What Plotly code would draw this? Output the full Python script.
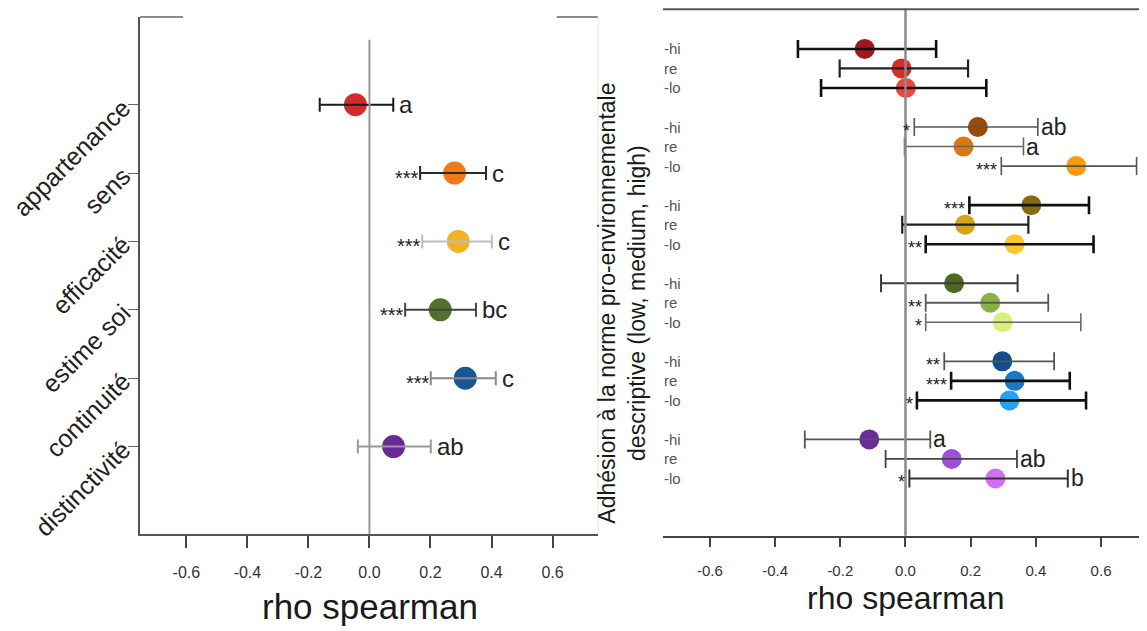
import plotly.graph_objects as go

# ---------------- data: left panel ----------------
left_labels = ["appartenance", "sens", "efficacité", "estime soi", "continuité", "distinctivité"]
left_rho = [-0.046, 0.279, 0.291, 0.232, 0.314, 0.079]
left_ci_low = [-0.163, 0.166, 0.173, 0.117, 0.201, -0.038]
left_ci_high = [0.078, 0.382, 0.401, 0.349, 0.414, 0.201]
left_stars = ["", "***", "***", "***", "***", ""]
left_letters = ["a", "c", "c", "bc", "c", "ab"]
left_colors = ["#d42a2a", "#f07a1a", "#f0b326", "#52702a", "#1a5596", "#6a2898"]
left_bar_colors = ["#1a1a1a", "#2a2a2a", "#bdbdbd", "#444444", "#8a8a8a", "#9a9a9a"]

# ---------------- data: right panel ----------------
right_levels = ["-hi", "re", "-lo"]
right_rho = [[-0.125, -0.012, 0.001],
             [0.222, 0.178, 0.524],
             [0.386, 0.183, 0.335],
             [0.149, 0.260, 0.298],
             [0.297, 0.335, 0.319],
             [-0.111, 0.142, 0.276]]
right_ci_low = [[-0.330, -0.202, -0.259],
                [0.027, -0.003, 0.294],
                [0.196, -0.010, 0.062],
                [-0.075, 0.062, 0.062],
                [0.119, 0.140, 0.035],
                [-0.309, -0.061, 0.012]]
right_ci_high = [[0.094, 0.192, 0.248],
                 [0.406, 0.362, 0.709],
                 [0.563, 0.377, 0.577],
                 [0.344, 0.438, 0.538],
                 [0.456, 0.504, 0.554],
                 [0.076, 0.342, 0.498]]
right_stars = [["", "", ""],
               ["*", "", "***"],
               ["***", "", "**"],
               ["", "**", "*"],
               ["**", "***", "*"],
               ["", "", "*"]]
right_letters = [["", "", ""],
                 ["ab", "a", "b"],
                 ["", "", ""],
                 ["", "", ""],
                 ["", "", ""],
                 ["a", "ab", "b"]]
right_colors = [["#9e1a1a", "#d92b26", "#f2453a"],
                ["#9a4a08", "#d8780f", "#ff9a0c"],
                ["#8a6a10", "#d3a31c", "#ffc62a"],
                ["#4c6a1e", "#8db042", "#d6f07a"],
                ["#0f4f8c", "#1a78c8", "#26a0f2"],
                ["#6a2c98", "#9f4fd6", "#d36ff7"]]
right_bar_colors = [["#111111", "#222222", "#111111"],
                    ["#555555", "#666666", "#555555"],
                    ["#111111", "#222222", "#111111"],
                    ["#3a3a3a", "#5a5a5a", "#6a6a6a"],
                    ["#555555", "#111111", "#111111"],
                    ["#555555", "#444444", "#333333"]]
right_bar_widths = [[2.6, 2.2, 2.6],
                    [1.6, 1.6, 1.6],
                    [2.6, 2.2, 2.6],
                    [2.0, 1.8, 1.6],
                    [1.8, 2.6, 2.6],
                    [1.8, 1.8, 2.0]]

x_ticks = [-0.6, -0.4, -0.2, 0.0, 0.2, 0.4, 0.6]
x_ticktext = ["-0.6", "-0.4", "-0.2", "0.0", "0.2", "0.4", "0.6"]
x_title = "rho spearman"
right_ytitle = "Adhésion à la norme pro-environnementale<br>descriptive (low, medium, high)"

FONT = "Liberation Sans, Arial, sans-serif"
# the page adds an 8px body margin; figure is sized so the page fills the window exactly
OFF = 8
W, H = 1147 - OFF, 631 - OFF


def xp(px):
    return (px - OFF) / W


def yp(py):
    return 1 - (py - OFF) / H


fig = go.Figure()
annotations = []

# ---------------- left panel traces ----------------
left_pos = list(range(1, len(left_labels) + 1))
for i in range(len(left_labels)):
    fig.add_trace(go.Scatter(
        x=[left_rho[i]], y=[left_pos[i]], mode="markers",
        marker=dict(color=left_colors[i], size=23, line=dict(width=0)),
        xaxis="x", yaxis="y", showlegend=False, hoverinfo="skip"))
    fig.add_trace(go.Scatter(
        x=[left_rho[i]], y=[left_pos[i]], mode="markers",
        marker=dict(size=1, opacity=0),
        error_x=dict(type="data", symmetric=False,
                     array=[left_ci_high[i] - left_rho[i]],
                     arrayminus=[left_rho[i] - left_ci_low[i]],
                     color=left_bar_colors[i], thickness=2, width=7),
        xaxis="x", yaxis="y", showlegend=False, hoverinfo="skip"))
    if left_stars[i]:
        annotations.append(dict(x=left_ci_low[i], y=left_pos[i], xref="x", yref="y",
                                text=left_stars[i], showarrow=False, xanchor="right",
                                yanchor="middle", xshift=1, yshift=-5,
                                font=dict(family=FONT, size=20, color="#222")))
    if left_letters[i]:
        annotations.append(dict(x=left_ci_high[i], y=left_pos[i], xref="x", yref="y",
                                text=left_letters[i], showarrow=False, xanchor="left",
                                yanchor="middle", xshift=4, yshift=0,
                                font=dict(family=FONT, size=24, color="#222")))

# ---------------- right panel traces ----------------
for g in range(len(right_rho)):
    for k in range(len(right_levels)):
        pos = g * 4 + k
        fig.add_trace(go.Scatter(
            x=[right_rho[g][k]], y=[pos], mode="markers",
            marker=dict(color=right_colors[g][k], size=20, line=dict(width=0)),
            xaxis="x2", yaxis="y2", showlegend=False, hoverinfo="skip"))
        fig.add_trace(go.Scatter(
            x=[right_rho[g][k]], y=[pos], mode="markers",
            marker=dict(size=1, opacity=0),
            error_x=dict(type="data", symmetric=False,
                         array=[right_ci_high[g][k] - right_rho[g][k]],
                         arrayminus=[right_rho[g][k] - right_ci_low[g][k]],
                         color=right_bar_colors[g][k], thickness=right_bar_widths[g][k],
                         width=9),
            xaxis="x2", yaxis="y2", showlegend=False, hoverinfo="skip"))
        annotations.append(dict(x=xp(662), y=pos, xref="paper", yref="y2",
                                text=right_levels[k], showarrow=False, xanchor="left",
                                yanchor="middle",
                                font=dict(family=FONT, size=15, color="#555")))
        if right_stars[g][k]:
            annotations.append(dict(x=right_ci_low[g][k], y=pos, xref="x2", yref="y2",
                                    text=right_stars[g][k], showarrow=False, xanchor="right",
                                    yanchor="middle", xshift=-2, yshift=-4,
                                    font=dict(family=FONT, size=18, color="#222")))
        if right_letters[g][k]:
            annotations.append(dict(x=right_ci_high[g][k], y=pos, xref="x2", yref="y2",
                                    text=right_letters[g][k], showarrow=False, xanchor="left",
                                    yanchor="middle", xshift=1, yshift=0,
                                    font=dict(family=FONT, size=23, color="#222")))

# ---------------- titles ----------------
annotations.append(dict(x=xp(369.5), y=yp(613), xref="paper", yref="paper",
                        text=x_title, showarrow=False, xanchor="center", yanchor="middle",
                        font=dict(family=FONT, size=35, color="#1a1a1a")))
annotations.append(dict(x=xp(905.5), y=yp(605), xref="paper", yref="paper",
                        text=x_title, showarrow=False, xanchor="center", yanchor="middle",
                        font=dict(family=FONT, size=32, color="#1a1a1a")))
annotations.append(dict(x=xp(622), y=yp(307), xref="paper", yref="paper",
                        text=right_ytitle, showarrow=False, xanchor="center", yanchor="middle",
                        textangle=-90,
                        font=dict(family=FONT, size=23, color="#1a1a1a")))

shapes = [
    # zero reference lines
    dict(type="line", xref="x", yref="y domain", x0=0, x1=0, y0=0, y1=0.956,
         line=dict(color="#9a9a9a", width=2)),
    dict(type="line", xref="x2", yref="y2 domain", x0=0, x1=0, y0=0, y1=1,
         line=dict(color="#8a8a8a", width=2.5)),
    # left panel partial top frame and faint right edge
    dict(type="line", xref="x domain", yref="y domain", x0=0, x1=0.094, y0=1, y1=1,
         line=dict(color="#666", width=1.5)),
    dict(type="line", xref="x domain", yref="y domain", x0=0.91, x1=1, y0=1, y1=1,
         line=dict(color="#666", width=1.5)),
    dict(type="line", xref="x domain", yref="y domain", x0=1, x1=1, y0=0, y1=1,
         line=dict(color="#e6e6e6", width=1)),
    # right panel top frame
    dict(type="line", xref="x2 domain", yref="y2 domain", x0=0, x1=1, y0=1, y1=1,
         line=dict(color="#555", width=2)),
]

fig.update_layout(
    width=W, height=H,
    margin=dict(l=0, r=0, t=0, b=0),
    paper_bgcolor="white", plot_bgcolor="white",
    font=dict(family=FONT, color="#222"),
    showlegend=False,
    xaxis=dict(domain=[xp(140), xp(598)], range=[-0.752, 0.749],
               tickvals=x_ticks, ticktext=x_ticktext, ticks="outside", ticklen=12,
               tickcolor="#444", tickwidth=1.5, showline=True, linecolor="#555", linewidth=1.5,
               showgrid=False, zeroline=False, ticklabelstandoff=11,
               tickfont=dict(family=FONT, size=16, color="#333")),
    yaxis=dict(domain=[yp(540), yp(17)], range=[7.28, -0.285],
               tickvals=left_pos, ticktext=left_labels, tickangle=-45,
               ticks="outside", ticklen=10, tickcolor="#666", tickwidth=1,
               showline=True, linecolor="#555", linewidth=1.5,
               showgrid=False, zeroline=False,
               tickfont=dict(family=FONT, size=25, color="#222")),
    xaxis2=dict(domain=[xp(663), 1.0], range=[-0.744, 0.741], anchor="y2",
                tickvals=x_ticks, ticktext=x_ticktext, ticks="outside", ticklen=9,
                tickcolor="#444", tickwidth=1.5, showline=True, linecolor="#444", linewidth=2,
                showgrid=False, zeroline=False, ticklabelstandoff=11,
                tickfont=dict(family=FONT, size=15, color="#333")),
    yaxis2=dict(domain=[yp(541.7), yp(9.3)], range=[24.93, -2.03], anchor="x2",
                showticklabels=False, ticks="", showline=False, showgrid=False,
                zeroline=False),
    annotations=annotations,
    shapes=shapes,
)

fig.write_html("out.html")
